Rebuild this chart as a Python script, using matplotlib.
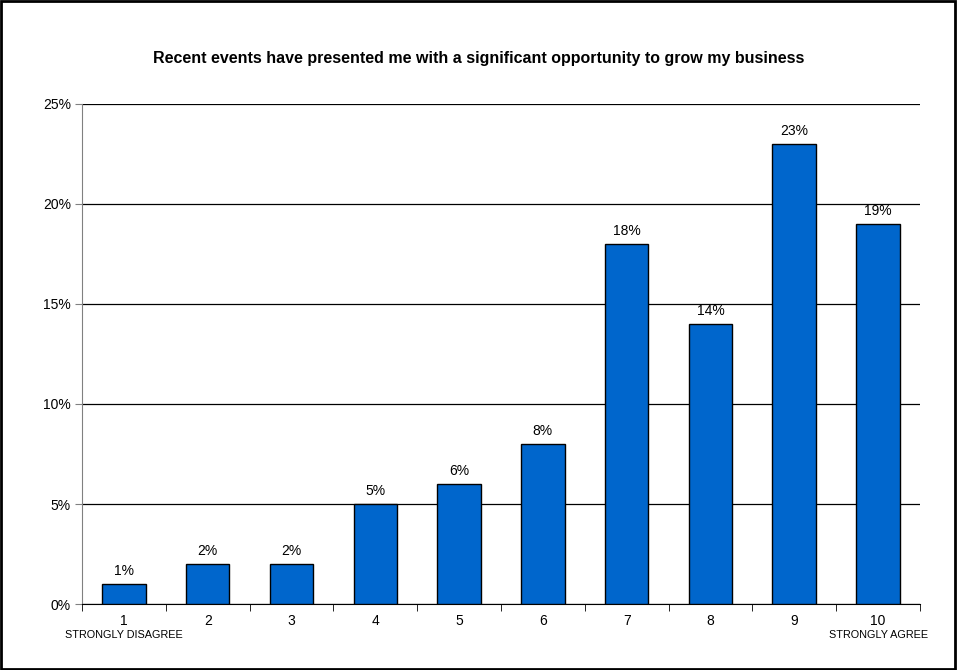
import numpy as np
import matplotlib.pyplot as plt
import matplotlib.transforms as mtransforms
from matplotlib.patches import Rectangle
from matplotlib.ticker import FixedLocator

plt.rcParams['font.family'] = ['Liberation Sans', 'DejaVu Sans']

# survey responses, share of respondents per score
scores = ['1', '2', '3', '4', '5', '6', '7', '8', '9', '10']
shares = [1, 2, 2, 5, 6, 8, 18, 14, 23, 19]
end_labels = {0: 'STRONGLY DISAGREE', 9: 'STRONGLY AGREE'}
title = 'Recent events have presented me with a significant opportunity to grow my business'

fig = plt.figure(figsize=(9.57, 6.70), dpi=100)
ax = fig.add_axes([0.0857, 0.0985, 0.8756, 0.7463])

x = np.arange(len(scores))
ax.bar(x, shares, width=0.52, color='#0066CC', edgecolor='black',
       linewidth=1.0, zorder=3)
for xi, v in zip(x, shares):
    ax.text(xi, v + 0.3, '%d%%' % v, ha='center', va='bottom', fontsize=10)

ax.set_xlim(-0.5, len(scores) - 0.5)
ax.set_ylim(0, 25)
ax.set_yticks(np.arange(0, 26, 5))
ax.set_yticklabels(['%d%%' % v for v in range(0, 26, 5)], fontsize=10)
ax.yaxis.grid(True, color='black', linewidth=0.9, zorder=0)

ax.set_xticks(x)
ax.set_xticklabels(scores, fontsize=10)
ax.tick_params(axis='x', which='major', length=0, pad=7)
ax.xaxis.set_minor_locator(FixedLocator(np.arange(-0.5, len(scores), 1.0)))
ax.tick_params(axis='x', which='minor', length=5, color='black')
ax.tick_params(axis='y', length=5, color='#808080', pad=3)

# captions under the two end points of the scale
trans = mtransforms.blended_transform_factory(ax.transData, ax.transAxes)
for i, txt in end_labels.items():
    ax.text(x[i], -0.062, txt, transform=trans, ha='center', va='center', fontsize=7.8)

ax.spines['top'].set_visible(False)
ax.spines['right'].set_visible(False)
ax.spines['left'].set_color('#808080')
ax.spines['bottom'].set_color('black')

fig.text(0.5, 0.913, title, ha='center', va='center', fontsize=11.5, fontweight='bold')

# frame around the whole chart
fig.patches.append(Rectangle((0.001, 0.001), 0.997, 0.997, transform=fig.transFigure,
                             fill=False, edgecolor='black', linewidth=2))

fig.savefig('out.png', dpi=100)
